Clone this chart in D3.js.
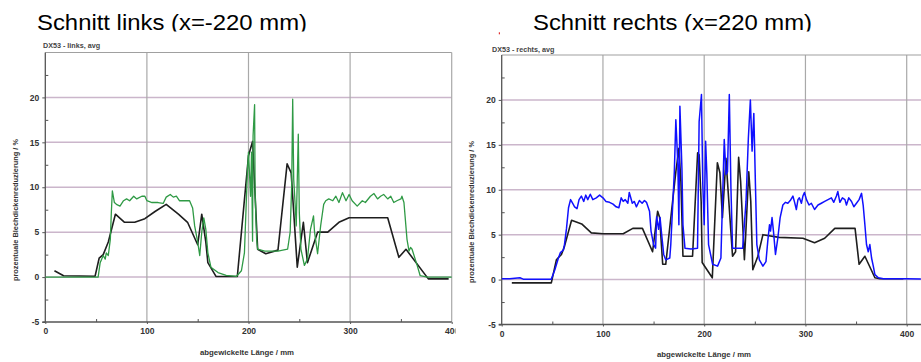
<!DOCTYPE html>
<html><head><meta charset="utf-8">
<script src="https://cdn.jsdelivr.net/npm/d3@7/dist/d3.min.js"></script>
<style>
html,body{margin:0;padding:0;background:#fff;}
svg{display:block;}
text{font-family:"Liberation Sans",Arial,sans-serif;}
</style></head>
<body>
<svg id="c" width="921" height="362"></svg>
<script>
// ---------- DATA ----------
const xTicks = [0, 100, 200, 300, 400];
const xMinor = [50, 150, 250, 350];
const yTicks = [-5, 0, 5, 10, 15, 20];
const yMinor = [-2.5, 2.5, 7.5, 12.5, 17.5, 22.5];
const gridY = [0, 5, 10, 15, 20];
const gridX = [100, 200, 300, 400];

const titles = ["Schnitt links (x=-220 mm)", "Schnitt rechts (x=220 mm)"];
const subtitles = ["DX53 - links, avg", "DX53  - rechts, avg"];
const yTitle = "prozentuale Blechdickenreduzierung / %";
const xTitle = "abgewickelte Länge / mm";

// left section: black (averaged) line
const leftBlack = [[9,0.7],[18,0.15],[49,0.1],[53,2.1],[57,2.5],[62,3.9],[69,7.0],[78,6.1],[88,6.1],[98,6.5],
[108,7.3],[119,8.1],[131,7.0],[140,6.1],[150,3.6],[154,7.0],[158,3.9],[160,1.6],[168,0.07],[189,0.07],
[200,13.5],[204,15.1],[209,3.1],[217,2.6],[229,3.0],[238,12.6],[242,11.6],[248,1.1],[254,6.1],[258,1.6],
[268,5.0],[278,5.0],[289,6.1],[299,6.6],[337,6.6],[348,2.2],[355,3.1],[377,-0.2],[397,-0.2]];

// left section: green line
const leftGreen = [[0,0],[52,0],[54,1.6],[57,2.4],[59,2.0],[60,2.7],[62,2.4],[64,4.2],[65,7.2],[66,9.6],[68,8.3],
[70,8.1],[73.5,7.9],[77,8.5],[80,8.7],[83,8.5],[87,9.0],[90,8.7],[95,9.0],[98,9.0],[100,8.5],[105,8.3],
[111,8.3],[116,8.2],[119,8.9],[123,9.2],[126,8.9],[129,9.0],[132,8.5],[137,8.5],[142,8.5],[145,7.7],
[147,5.7],[150,3.9],[152,2.4],[154,5.0],[156,6.6],[158,5.3],[160,2.7],[163,1.1],[170,0.5],[178,0.2],
[188,0.07],[193,0.7],[196,2.7],[199,12],[200,13.9],[202,9],[203,13.9],[204,4.0],[204.5,15.7],[206,19.2],
[206.5,9.4],[208,4.2],[209,3.1],[216,2.9],[229,2.9],[238.5,3.1],[241,5.0],[242.5,10.1],[243.5,19.8],
[244.5,10.9],[246,7.9],[247,5.7],[249,15.9],[250,7.2],[251.6,3.1],[255,1.3],[258,2.0],[261,5.3],[264,6.8],
[265,5.0],[268,2.6],[271,5.7],[274,8.1],[276,8.5],[279,8.7],[283,8.5],[286,9.0],[289,8.3],[292.5,9.4],
[296,8.5],[299,9.2],[302,8.5],[307,7.9],[312,8.5],[315,8.3],[320,9.0],[323.5,9.3],[327,8.7],[330,9.0],
[333,9.2],[337,8.7],[340,9.0],[343,8.3],[346,8.5],[350,8.7],[351,9.0],[353,8.3],[356,4.2],[358,2.9],
[359.5,3.3],[361,3.1],[366,1.3],[369,0.15],[376,0],[405,0]];

// right section: black (averaged) line
const rightBlack = [[10,-0.37],[49,-0.37],[54,2.2],[59,2.8],[62,3.7],[69,6.6],[79,6.2],[88.5,5.2],[100,5.1],
[120,5.1],[129.5,5.7],[139,5.7],[149,3.1],[154,7.6],[156,6.9],[159,1.7],[162,1.7],[172,12.0],[175,14.6],
[177,10.9],[179,2.6],[188.5,2.6],[193.5,14.1],[195,13.9],[197,8.7],[198,1.9],[208,0.2],[213,13.0],
[215.5,11.9],[218,6.9],[221.5,13.5],[223,10.9],[228,2.6],[231,3.1],[234,13.6],[236,10.9],[239.7,2.2],
[241,5.0],[244,12.0],[246,8.7],[248,1.1],[253,2.6],[258,5.0],[274,4.7],[297.5,4.6],[309,4.1],[319,4.6],
[329,5.7],[349,5.7],[353,1.7],[358.7,2.6],[368.6,0.2],[373.5,0.1],[396.7,0.1]];

// right section: blue line
const rightBlue = [[0,0.1],[8,0.1],[18,0.2],[21.3,0.05],[49,0.05],[52.5,1.1],[56,2.4],[58,3.0],[61,3.3],[62,3.9],
[64,5.7],[66,8.0],[68,8.9],[70,8.5],[72,8.1],[74.4,7.9],[76.4,8.9],[78.7,9.3],[81,8.7],[83,9.4],[85,8.9],
[87.5,9.5],[90,8.9],[93.4,9.1],[96.7,9.4],[100,9.1],[103,8.7],[106.5,8.6],[110,8.4],[113,8.1],[115.7,8.0],
[118,9.1],[120,8.7],[122,8.9],[124.6,8.5],[126,9.7],[129,8.5],[131,8.7],[133,8.1],[136,8.8],[138.7,8.5],
[141,8.8],[143,8.6],[146,7.6],[147.5,5.4],[150,3.9],[152,3.5],[153,7.0],[155,5.6],[156.4,6.9],[158,5.0],
[160,2.8],[162,2.2],[166,2.4],[167,3.9],[170.5,12.0],[172,17.8],[174,12.8],[175,6.1],[176,19.3],[178,12.4],
[179,6.1],[181,3.5],[186.9,3.4],[193.4,3.5],[195,17.6],[197.3,20.6],[198.6,10.6],[200,6.1],[201.4,15.4],
[202.6,11.8],[204.3,3.9],[208.3,1.7],[213.2,1.5],[216.5,2.4],[219.8,15.6],[221.5,11.7],[223,12.0],[224.8,20.6],
[226.4,10.2],[228,3.5],[233,3.5],[238,3.5],[241.3,8.7],[243.6,15.7],[245.6,20.0],[247.3,14.3],[249,18.5],
[250.6,10.6],[252,3.9],[254.5,2.2],[258,1.5],[261,2.0],[262.8,4.3],[264.5,6.1],[265.5,5.4],[267,6.9],
[268.4,5.4],[270.4,2.8],[272.7,4.6],[275,6.9],[277.7,8.3],[280.3,8.6],[282.6,8.5],[285,8.8],[287.6,9.3],
[289.3,8.6],[291,7.8],[292.6,8.9],[294,9.1],[296,8.5],[297.5,9.3],[299,9.7],[301,8.9],[303.5,8.3],
[305.8,8.5],[309,7.8],[312.4,8.3],[315.7,8.5],[319,8.7],[322.3,8.9],[325.6,9.1],[328,8.6],[330.6,9.3],
[332,9.8],[334,8.6],[336.5,9.1],[339,8.9],[340.5,8.3],[342.8,9.1],[345.5,8.7],[347.8,8.1],[350.4,8.5],
[353,8.9],[355.4,9.6],[357,8.3],[358.7,6.1],[360.3,3.9],[362,3.1],[363.6,3.9],[365.3,2.4],[367,1.5],
[368.6,0.55],[372,0.2],[377,0.1],[400,0.1],[414,0.07]];

// ---------- DRAW ----------
const svg = d3.select("#c");

const panels = [
  {x0:45.3, x400:451.7, yBot:322, yTop:52.5, xEnd:451.7, clipR:455.5, clipL:0,
   title:titles[0], tX:37, tW:270, sub:subtitles[0], subX:43, subY:48,
   ytX:15, ytY:210, xtX:247, xtY:355, series:[[leftBlack,"#1e1e1e",1.6],[leftGreen,"#2f9a45",1.3]]},
  {x0:501.7, x400:906.7, yBot:324.5, yTop:55, xEnd:921, clipR:921, clipL:459,
   title:titles[1], tX:533, tW:279, sub:subtitles[1], subX:492, subY:52,
   ytX:471, ytY:212, xtX:704, xtY:357, series:[[rightBlack,"#1e1e1e",1.6],[rightBlue,"#1010ff",1.5]]}
];

const defs = svg.append("defs");
defs.append("clipPath").attr("id","titleClip").append("rect")
  .attr("x",0).attr("y",0).attr("width",921).attr("height",31.5);

panels.forEach((p,i) => {
  const cid = "pclip"+i;
  defs.append("clipPath").attr("id",cid).append("rect")
    .attr("x",p.clipL).attr("y",0).attr("width",p.clipR-p.clipL).attr("height",362);
  const g = svg.append("g").attr("clip-path","url(#"+cid+")");

  const x = d3.scaleLinear().domain([0,400]).range([p.x0,p.x400]);
  const y = d3.scaleLinear().domain([-5,25]).range([p.yBot,p.yTop]);
  const xMax = x.invert(p.xEnd);

  // title (clipped at bottom like reference)
  svg.append("text").attr("clip-path","url(#titleClip)")
    .attr("x",p.tX).attr("y",29.5).attr("font-size",21.5)
    .attr("textLength",p.tW).attr("lengthAdjust","spacingAndGlyphs")
    .attr("fill","#000").text(p.title);

  g.append("text").attr("x",p.subX).attr("y",p.subY).attr("font-size",7.2)
    .attr("font-weight","bold").attr("fill","#444").text(p.sub);

  // horizontal grid
  g.selectAll(".hg").data(gridY).enter().append("line")
    .attr("x1",x(0)).attr("x2",x(xMax)).attr("y1",d=>y(d)).attr("y2",d=>y(d))
    .attr("stroke","#cbb6cb").attr("stroke-width",1.5);
  // vertical grid
  g.selectAll(".vg").data(gridX).enter().append("line")
    .attr("x1",d=>x(d)).attr("x2",d=>x(d)).attr("y1",y(25)).attr("y2",y(-5))
    .attr("stroke","#a9a9a9").attr("stroke-width",1.2);
  // top frame
  g.append("line").attr("x1",x(0)).attr("x2",x(xMax)).attr("y1",y(25)).attr("y2",y(25))
    .attr("stroke","#a0a0a0").attr("stroke-width",1.2);

  // axes
  const fmt = d => String(d);
  const yAx = g.append("g").attr("transform",`translate(${x(0)},0)`)
    .call(d3.axisLeft(y).tickValues(yTicks).tickFormat(fmt).tickSize(3).tickPadding(3).tickSizeOuter(0));
  const yMin = g.append("g").attr("transform",`translate(${x(0)},0)`)
    .call(d3.axisLeft(y).tickValues(yMinor).tickFormat("").tickSize(-3).tickSizeOuter(0));
  const xAx = g.append("g").attr("transform",`translate(0,${y(-5)})`)
    .call(d3.axisBottom(x).tickValues(xTicks).tickFormat(fmt).tickSize(2).tickPadding(4).tickSizeOuter(0));
  const xMin = g.append("g").attr("transform",`translate(0,${y(-5)})`)
    .call(d3.axisBottom(x).tickValues(xMinor).tickFormat("").tickSize(-3).tickSizeOuter(0));
  [yAx,yMin,xAx,xMin].forEach(a=>{
    a.select(".domain").remove();
    a.selectAll("line").attr("stroke","#555").attr("stroke-width",1);
    a.selectAll("text").attr("font-size",8.5).attr("font-weight","bold").attr("fill","#333")
      .attr("font-family","Liberation Sans, Arial, sans-serif");
  });
  // axis lines
  g.append("line").attr("x1",x(0)).attr("x2",x(0)).attr("y1",y(25)).attr("y2",y(-5))
    .attr("stroke","#555").attr("stroke-width",1.3);
  g.append("line").attr("x1",x(0)-3).attr("x2",x(xMax)).attr("y1",y(-5)).attr("y2",y(-5))
    .attr("stroke","#555").attr("stroke-width",1.3);

  // axis titles
  g.append("text").attr("transform",`translate(${p.ytX},${p.ytY}) rotate(-90)`)
    .attr("text-anchor","middle").attr("dy","0.35em").attr("font-size",7.4).attr("font-weight","bold")
    .attr("fill","#333").text(yTitle);
  g.append("text").attr("x",p.xtX).attr("y",p.xtY).attr("text-anchor","middle")
    .attr("font-size",7.8).attr("font-weight","bold").attr("fill","#333").text(xTitle);

  // data lines
  const dclip = "dclip"+i;
  defs.append("clipPath").attr("id",dclip).append("rect")
    .attr("x",x(0)).attr("y",y(25)).attr("width",x(xMax)-x(0)).attr("height",y(-5)-y(25));
  const line = d3.line().x(d=>x(d[0])).y(d=>y(d[1]));
  const lg = g.append("g").attr("clip-path","url(#"+dclip+")");
  p.series.forEach(([data,col,w])=>{
    lg.append("path").datum(data).attr("d",line).attr("fill","none")
      .attr("stroke",col).attr("stroke-width",w).attr("stroke-linejoin","round");
  });
});

// small red mark near right title
svg.append("rect").attr("x",498.8).attr("y",32.3).attr("width",1.2).attr("height",2)
  .attr("fill","#e03030");
</script>
</body></html>
